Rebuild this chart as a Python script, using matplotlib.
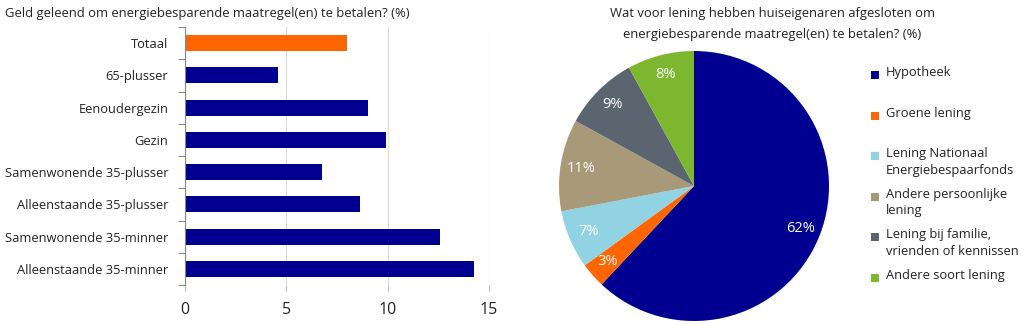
import matplotlib
matplotlib.use("Agg")
import matplotlib.pyplot as plt
from matplotlib.patches import Rectangle

plt.rcParams["font.family"] = ["Open Sans", "DejaVu Sans"]

# Bar chart data (percentages)
groups = [
    "Totaal",
    "65-plusser",
    "Eenoudergezin",
    "Gezin",
    "Samenwonende 35-plusser",
    "Alleenstaande 35-plusser",
    "Samenwonende 35-minner",
    "Alleenstaande 35-minner",
]
borrowed = [8.0, 4.6, 9.05, 9.9, 6.75, 8.65, 12.6, 14.25]
bar_colors = ["#FF6600"] + ["#000090"] * 7

# Pie chart data (percentages)
loan_types = [
    "Hypotheek",
    "Groene lening",
    "Lening Nationaal\nEnergiebespaarfonds",
    "Andere persoonlijke\nlening",
    "Lening bij familie,\nvrienden of kennissen",
    "Andere soort lening",
]
loan_shares = [62, 3, 7, 11, 9, 8]
pie_colors = ["#000090", "#FF6600", "#92D3E3", "#A89A78", "#5A6570", "#7DB72F"]

W, H = 1024, 324
fig = plt.figure(figsize=(W / 100, H / 100), dpi=100)

# ---- Left: horizontal bars ----
ax = fig.add_axes([185 / W, 1 - 285 / H, 304 / W, 258 / H])
ypos = list(range(len(groups)))
ax.barh(ypos, borrowed, height=0.5, color=bar_colors, zorder=3)
ax.set_ylim(len(groups) - 0.5, -0.5)
ax.set_xlim(0, 15)
ax.set_xticks([0, 5, 10, 15])
ax.set_yticks(ypos)
ax.set_yticklabels(groups, fontsize=9.3, color="#222222")
ax.set_yticks([k + 0.5 for k in range(-1, len(groups))], minor=True)
ax.tick_params(axis="y", which="major", length=0, pad=12)
ax.tick_params(axis="y", which="minor", length=5, color="#888888", width=0.8)
ax.tick_params(axis="x", length=4, color="#BBBBBB", pad=8, labelsize=11.5,
               labelcolor="#222222")
ax.grid(axis="x", color="#D9D9D9", linewidth=0.8, zorder=0)
for side in ("top", "right", "bottom"):
    ax.spines[side].set_visible(False)
ax.spines["left"].set_color("#888888")
ax.spines["left"].set_linewidth(0.8)
ax.spines["left"].set_zorder(4)

fig.text(5 / W, 1 - 14 / H, "Geld geleend om energiebesparende maatregel(en) te betalen? (%)",
         fontsize=9.4, color="#222222", va="center", ha="left")

# ---- Right: pie ----
cx, cy, r = 694, 186, 135
pax = fig.add_axes([(cx - r) / W, 1 - (cy + r) / H, 2 * r / W, 2 * r / H])
wedges, texts, autotexts = pax.pie(
    loan_shares, colors=pie_colors, startangle=90, counterclock=False,
    autopct=lambda p: f"{p:.0f}%", pctdistance=0.85,
    textprops=dict(color="white", fontsize=10.5),
)
pax.set_xlim(-1, 1)
pax.set_ylim(-1, 1)
pax.set_aspect("equal")
pax.axis("off")

fig.text(772 / W, 1 - 24 / H,
         "Wat voor lening hebben huiseigenaren afgesloten om\nenergiebesparende maatregel(en) te betalen? (%)",
         fontsize=9.4, color="#222222", ha="center", va="center", linespacing=1.8)

# Legend drawn entry by entry, square aligned with first text line
for i, (lab, col) in enumerate(zip(loan_types, pie_colors)):
    y = 75 + 40.6 * i
    fig.patches.append(Rectangle((871 / W, 1 - (y + 4) / H), 8 / W, 8 / H,
                                 transform=fig.transFigure, facecolor=col,
                                 edgecolor="none"))
    fig.text(886 / W, 1 - (y - 9) / H, lab, fontsize=9.3, color="#222222",
             ha="left", va="top", linespacing=1.35)

fig.savefig("out.png", dpi=100, facecolor="white")
